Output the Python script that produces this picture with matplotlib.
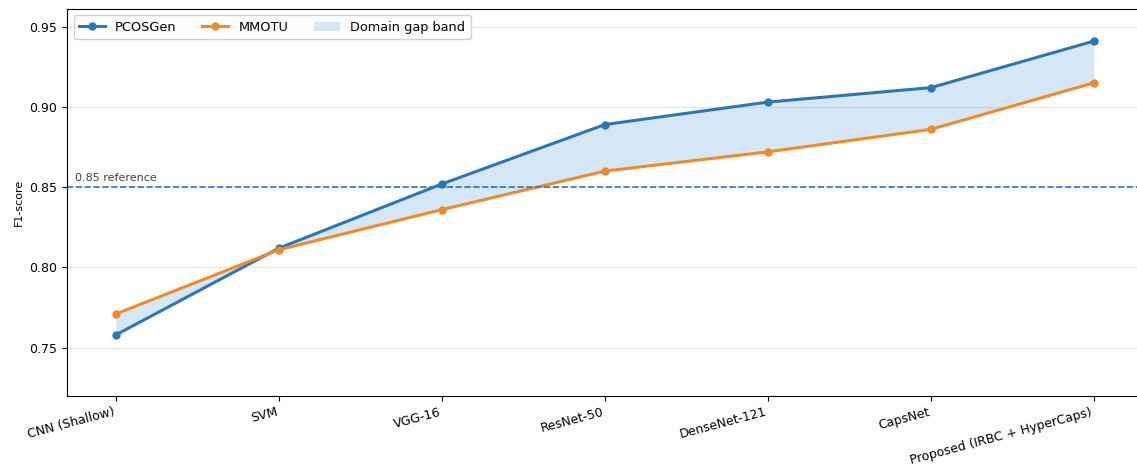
import matplotlib
matplotlib.use("Agg")
import matplotlib.pyplot as plt
import numpy as np

modelos = ["CNN (Shallow)", "SVM", "VGG-16", "ResNet-50", "DenseNet-121",
           "CapsNet", "Proposed (IRBC + HyperCaps)"]
f1_pcosgen = [0.758, 0.812, 0.852, 0.889, 0.903, 0.912, 0.941]
f1_mmotu = [0.771, 0.811, 0.836, 0.860, 0.872, 0.886, 0.915]
referencia = 0.85

x = np.arange(len(modelos))

fig = plt.figure(figsize=(11.37, 4.74), dpi=100)
ax = fig.add_axes([0.059, 0.165, 0.946, 0.816])

ax.plot(x, f1_pcosgen, marker="o", markersize=5, linewidth=2.2, color="#2e76b3", label="PCOSGen")
ax.plot(x, f1_mmotu, marker="o", markersize=5, linewidth=2.2, color="#f08a2c", label="MMOTU")
ax.fill_between(x, f1_pcosgen, f1_mmotu, color="#2f8ad0", alpha=0.2, linewidth=0, label="Domain gap band")

# linea de referencia
ax.axhline(referencia, linestyle="--", linewidth=1.2, color="#2e76b3")
ax.text(-0.25, referencia + 0.0025, "0.85 reference", fontsize=8, color="#5a3a30", va="bottom")

ax.set_xlim(-0.3, 6.3)
ax.set_ylim(0.72, 0.961)
ax.set_yticks([0.75, 0.80, 0.85, 0.90, 0.95])
ax.set_xticks(x)
ax.set_xticklabels(modelos, rotation=15, ha="right", fontsize=9)
ax.tick_params(axis="y", labelsize=9)
ax.set_ylabel("F1-score", fontsize=8)
ax.yaxis.grid(True, color="#e6e6e6", linewidth=0.8)
ax.set_axisbelow(True)

ax.legend(loc="upper left", ncol=3, fontsize=9.3, framealpha=0.9)

fig.savefig("out.png", dpi=100)
